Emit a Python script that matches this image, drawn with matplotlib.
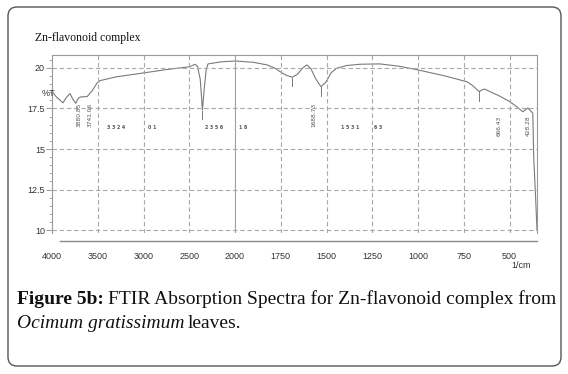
import matplotlib
matplotlib.use("Agg")
import numpy as np
import matplotlib.pyplot as plt
from matplotlib.patches import FancyBboxPatch
from matplotlib.transforms import IdentityTransform

# spectrum (wavenumber 1/cm, %T)
wavenumber = [4000, 3950, 3880, 3840, 3803, 3775, 3741, 3710, 3680, 3617, 3560,
              3508, 3475, 3300, 3005, 2750, 2491, 2437, 2410, 2380, 2356, 2335,
              2315, 2295, 2150, 2000, 1900, 1825, 1780, 1754, 1720, 1688, 1660,
              1630, 1608, 1585, 1560, 1531, 1505, 1475, 1445, 1390, 1317, 1208,
              1100, 1000, 850, 733, 700, 666, 650, 635, 600, 560, 498, 460, 428,
              410, 400, 385, 373, 368, 358, 350]
transmittance = [18.55, 18.2, 17.85, 18.2, 18.42, 18.1, 17.82, 18.15, 18.22, 18.23, 18.6,
                 19.07, 19.22, 19.45, 19.69, 19.9, 20.08, 20.23, 20.1, 19.3, 17.41, 18.8,
                 19.9, 20.25, 20.38, 20.43, 20.35, 20.19, 19.98, 19.77, 19.55, 19.43, 19.6,
                 20.0, 20.19, 19.95, 19.35, 18.85, 19.1, 19.7, 19.98, 20.15, 20.23, 20.25,
                 20.1, 19.88, 19.5, 19.15, 18.9, 18.54, 18.65, 18.7, 18.5, 18.3, 17.92, 17.6, 17.3,
                 17.45, 17.53, 17.35, 17.22, 14.5, 12.1, 10.0]

# labelled peaks
peak_labels = ["3880.85", "3741.06", "1688.73", "666.43", "428.28"]
peak_label_wn = [3700, 3590, 1570, 555, 400]
peak_label_t = [17.85, 17.85, 17.85, 17.05, 17.05]
marker_wn = [2356, 1688, 1531, 666]
marker_top = [17.41, 19.43, 18.85, 18.54]

# illegible peak tables printed in the plot
table_text = ["3 3 2 4", "0 1", "2 3 5 6", "1 8", "1 5 3 1", "6 3"]
table_wn = [3400, 2950, 2330, 1980, 1420, 1240]
table_t = 16.3

xticks = [4000, 3500, 3000, 2500, 2000, 1750, 1500, 1250, 1000, 750, 500]
xgrid = [3500, 3000, 2500, 1750, 1500, 1250, 1000, 750, 500]
yticks = [10, 12.5, 15, 17.5, 20]


def fwd(w):
    w = np.asarray(w, dtype=float)
    return np.where(w > 2000, 2000 + (w - 2000) / 2.0, w)


def inv(v):
    v = np.asarray(v, dtype=float)
    return np.where(v > 2000, 2000 + (v - 2000) * 2.0, v)


W, H = 568, 374
fig = plt.figure(figsize=(W / 100, H / 100), dpi=100)
ax = fig.add_axes([52 / W, 1 - 232.5 / H, 485 / W, 177.5 / H])
ax.set_xscale("function", functions=(fwd, inv))
ax.set_xlim(4000, 350)
ax.set_ylim(9.85, 20.8)

ax.plot(wavenumber, transmittance, color="#7a7a7a", lw=0.8)
for w, t in zip(marker_wn, marker_top):
    ax.plot([w, w], [t - 0.05, t - 0.55], color="#7a7a7a", lw=0.7)

grid_kw = dict(color="#a8a8a8", lw=0.8, ls=(0, (4, 2.5)))
for g in xgrid:
    ax.axvline(g, **grid_kw)
ax.axvline(2000, color="#a0a0a0", lw=0.8)
for g in yticks:
    ax.axhline(g, **grid_kw)

for lab, w, t in zip(peak_labels, peak_label_wn, peak_label_t):
    ax.text(w, t, lab, rotation=90, fontsize=4.2, color="#555555",
            ha="center", va="top", family="DejaVu Sans")
for lab, w in zip(table_text, table_wn):
    ax.text(w, table_t, lab, fontsize=3.4, color="#555555", ha="left",
            va="center", family="DejaVu Sans", weight="bold")

for s in ["top", "right", "left"]:
    ax.spines[s].set_color("#9a9a9a")
    ax.spines[s].set_linewidth(0.8)
ax.spines["bottom"].set_position(("outward", 6))
ax.spines["bottom"].set_bounds(3913, 350)
ax.spines["bottom"].set_color("#8a8a8a")
ax.spines["bottom"].set_linewidth(1.0)

ax.set_xticks(xticks)
ax.set_xticklabels([str(v) for v in xticks])
ax.xaxis.set_minor_locator(matplotlib.ticker.NullLocator())
ax.tick_params(axis="x", length=0, pad=8, labelsize=6.5, labelcolor="#333333")
ax.set_yticks(yticks)
ax.set_yticklabels(["10", "12.5", "15", "17.5", "20"])
ax.set_yticks(np.arange(10, 20.8, 0.5), minor=True)
ax.tick_params(axis="y", which="major", length=4, width=0.7, color="#9a9a9a",
               pad=1, labelsize=6.5, labelcolor="#333333")
ax.tick_params(axis="y", which="minor", length=2.5, width=0.6, color="#9a9a9a")
for lab in ax.get_xticklabels() + ax.get_yticklabels():
    lab.set_family("Liberation Sans")

fig.text(48 / W, 1 - 94 / H, "%T", fontsize=6.5, color="#333333",
         family="Liberation Sans", ha="center", va="center")
fig.text(521 / W, 1 - 265 / H, "1/cm", fontsize=6.5, color="#333333",
         family="Liberation Sans", ha="center", va="center")

fig.text(35 / W, 1 - 38 / H, "Zn-flavonoid complex", fontsize=8.5,
         family="Liberation Serif", color="#111111", va="center", ha="left")

# caption, built piece by piece
fig.canvas.draw()
renderer = fig.canvas.get_renderer()


def caption_piece(x, y, s, **kw):
    t = fig.text(x / W, 1 - y / H, s, fontsize=14, family="Liberation Serif",
                 color="#111111", va="center", ha="left", **kw)
    bb = t.get_window_extent(renderer)
    return x + bb.width


x = caption_piece(17, 299, "Figure 5b:", weight="bold")
caption_piece(x + 4, 299, "FTIR Absorption Spectra for Zn-flavonoid complex from")
x = caption_piece(17, 324, "Ocimum gratissimum", style="italic")
caption_piece(x + 3, 324, "leaves.")

border = FancyBboxPatch((8, H - 366), 553, 359, boxstyle="round,pad=0,rounding_size=9",
                        transform=IdentityTransform(), fill=False,
                        edgecolor="#555555", lw=1.0)
fig.add_artist(border)

fig.savefig("out.png", dpi=100)
